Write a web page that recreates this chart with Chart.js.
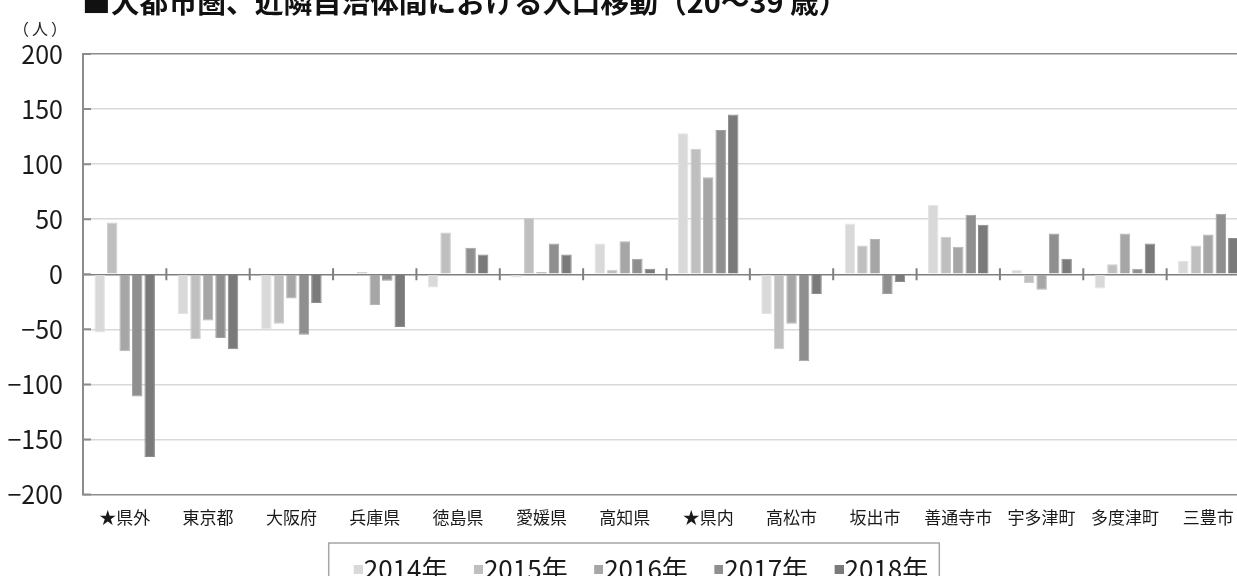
<!DOCTYPE html>
<html lang="ja">
<head>
<meta charset="utf-8">
<script src="https://cdn.jsdelivr.net/npm/chart.js@4"></script>
<style>
  html, body { margin: 0; padding: 0; background: #fff; }
  .wrap { position: relative; width: 1237px; height: 576px; overflow: hidden; }
  .chart-box { position: absolute; left: 0; top: 0; width: 1250px; height: 576px; }
  .title {
    position: absolute; left: 82px; top: -13px; margin: 0;
    font: bold 28.8px/28px "Noto Sans CJK JP", sans-serif; color: #111; white-space: nowrap;
  }
  .unit {
    position: absolute; left: 13px; top: 19px;
    font: 16px/18px "Noto Sans CJK JP", sans-serif; color: #222; letter-spacing: 3px;
  }
</style>
</head>
<body>
<div class="wrap">
  <div class="chart-box"><canvas id="migrationChart" width="1250" height="576"></canvas></div>
  <h1 class="title">■大都市圏、近隣自治体間における人口移動（20〜39 歳）</h1>
  <div class="unit">（人）</div>
</div>
<script>
const areas = ["★県外", "東京都", "大阪府", "兵庫県", "徳島県", "愛媛県", "高知県",
  "★県内", "高松市", "坂出市", "善通寺市", "宇多津町", "多度津町", "三豊市"];
const years = ["2014年", "2015年", "2016年", "2017年", "2018年"];
const moves2014 = [-53, -36, -50, 0, -12, -3, 28, 128, -36, 46, 63, 4, -13, 12];
const moves2015 = [47, -59, -45, 2, 38, 51, 4, 114, -68, 26, 34, -8, 9, 26];
const moves2016 = [-70, -42, -22, -28, 0, 2, 30, 88, -45, 32, 25, -14, 37, 36];
const moves2017 = [-111, -58, -55, -6, 24, 28, 14, 131, -79, -18, 54, 37, 5, 55];
const moves2018 = [-166, -68, -26, -48, 18, 18, 5, 145, -18, -7, 45, 14, 28, 33];
const yTicks = [-200, -150, -100, -50, 0, 50, 100, 150, 200];

const seriesValues = [moves2014, moves2015, moves2016, moves2017, moves2018];
const fillColors = ["#d9d9d9", "#bfbfbf", "#a6a6a6", "#8f8f8f", "#7a7a7a"];
const edgeColors = ["#e4e4e4", "#cdcdcd", "#b5b5b5", "#a0a0a0", "#8c8c8c"];
const fontFamily = '"Noto Sans CJK JP", "Noto Sans", sans-serif';

// legend marker: small square drawn at the right end so it sits close to the text
function legendSquare(color) {
  const c = document.createElement("canvas");
  c.width = 33;
  c.height = 9;
  const g = c.getContext("2d");
  g.fillStyle = color;
  g.fillRect(24, 0, 9, 9);
  return c;
}

// tick marks on the zero line and short inner ticks on the value axis
const axisMarks = {
  id: "axisMarks",
  afterDatasetsDraw(chart) {
    const { ctx, chartArea, scales } = chart;
    const x = scales.x;
    const y = scales.y;
    const y0 = y.getPixelForValue(0);
    ctx.save();
    ctx.strokeStyle = "#7f7f7f";
    ctx.lineWidth = 2;
    ctx.beginPath();
    for (let i = 1; i < areas.length; i++) {
      const bx = (x.getPixelForValue(i - 1) + x.getPixelForValue(i)) / 2;
      ctx.moveTo(bx, y0 - 6);
      ctx.lineTo(bx, y0 + 6);
    }
    ctx.stroke();
    ctx.strokeStyle = "#8c8c8c";
    ctx.beginPath();
    y.ticks.forEach((t) => {
      const py = y.getPixelForValue(t.value);
      ctx.moveTo(chartArea.left, py);
      ctx.lineTo(chartArea.left + 8, py);
    });
    ctx.stroke();
    ctx.restore();
  },
};

// nudge the legend a little to the right and frame it
const legendFrame = {
  id: "legendFrame",
  afterLayout(chart) {
    if (!chart.legend) return;
    chart.legend.left += 10;
    chart.legend.right += 10;
  },
  afterDraw(chart) {
    const boxes = chart.legend && chart.legend.legendHitBoxes;
    if (!boxes || !boxes.length) return;
    const first = boxes[0];
    const last = boxes[boxes.length - 1];
    const left = first.left + 12 - 25;
    const right = last.left + last.width + 11;
    const ctx = chart.ctx;
    ctx.save();
    ctx.strokeStyle = "#a6a6a6";
    ctx.lineWidth = 1.5;
    ctx.strokeRect(left, first.top - 13, right - left, 60);
    ctx.restore();
  },
};

new Chart(document.getElementById("migrationChart").getContext("2d"), {
  type: "bar",
  data: {
    labels: areas,
    datasets: years.map((year, i) => ({
      label: year,
      data: seriesValues[i],
      backgroundColor: fillColors[i],
      borderColor: edgeColors[i],
      borderWidth: 1,
      pointStyle: legendSquare(fillColors[i]),
      categoryPercentage: 0.75,
      barPercentage: 0.84,
    })),
  },
  options: {
    responsive: false,
    animation: false,
    layout: { padding: { top: 54, bottom: -16, left: 0, right: 0 } },
    scales: {
      x: {
        grid: { display: false, drawTicks: false },
        border: { display: false },
        ticks: {
          color: "#1a1a1a",
          font: { family: fontFamily, size: 17 },
          padding: 13,
          maxRotation: 0,
          autoSkip: false,
        },
        afterFit(scale) {
          scale.height = 47;
        },
      },
      y: {
        min: -200,
        max: 200,
        afterBuildTicks(scale) {
          scale.ticks = yTicks.map((v) => ({ value: v }));
        },
        grid: {
          drawTicks: false,
          lineWidth: 1.5,
          color(c) {
            const v = c.tick && c.tick.value;
            if (v === 0) return "#7f7f7f";
            if (v === 200 || v === -200) return "#8c8c8c";
            return "#d9d9d9";
          },
        },
        border: { color: "#8c8c8c", width: 2 },
        ticks: {
          color: "#1a1a1a",
          font: { family: fontFamily, size: 25 },
          padding: 20,
          callback: (v) => String(v).replace("-", "\u2212"),
        },
        afterFit(scale) {
          scale.width = 83;
        },
      },
    },
    plugins: {
      legend: {
        position: "bottom",
        labels: {
          color: "#1a1a1a",
          font: { family: fontFamily, size: 26 },
          usePointStyle: true,
          boxWidth: 9,
          boxHeight: 9,
          padding: 14.5,
        },
      },
      tooltip: { enabled: false },
    },
  },
  plugins: [axisMarks, legendFrame],
});
</script>
</body>
</html>
